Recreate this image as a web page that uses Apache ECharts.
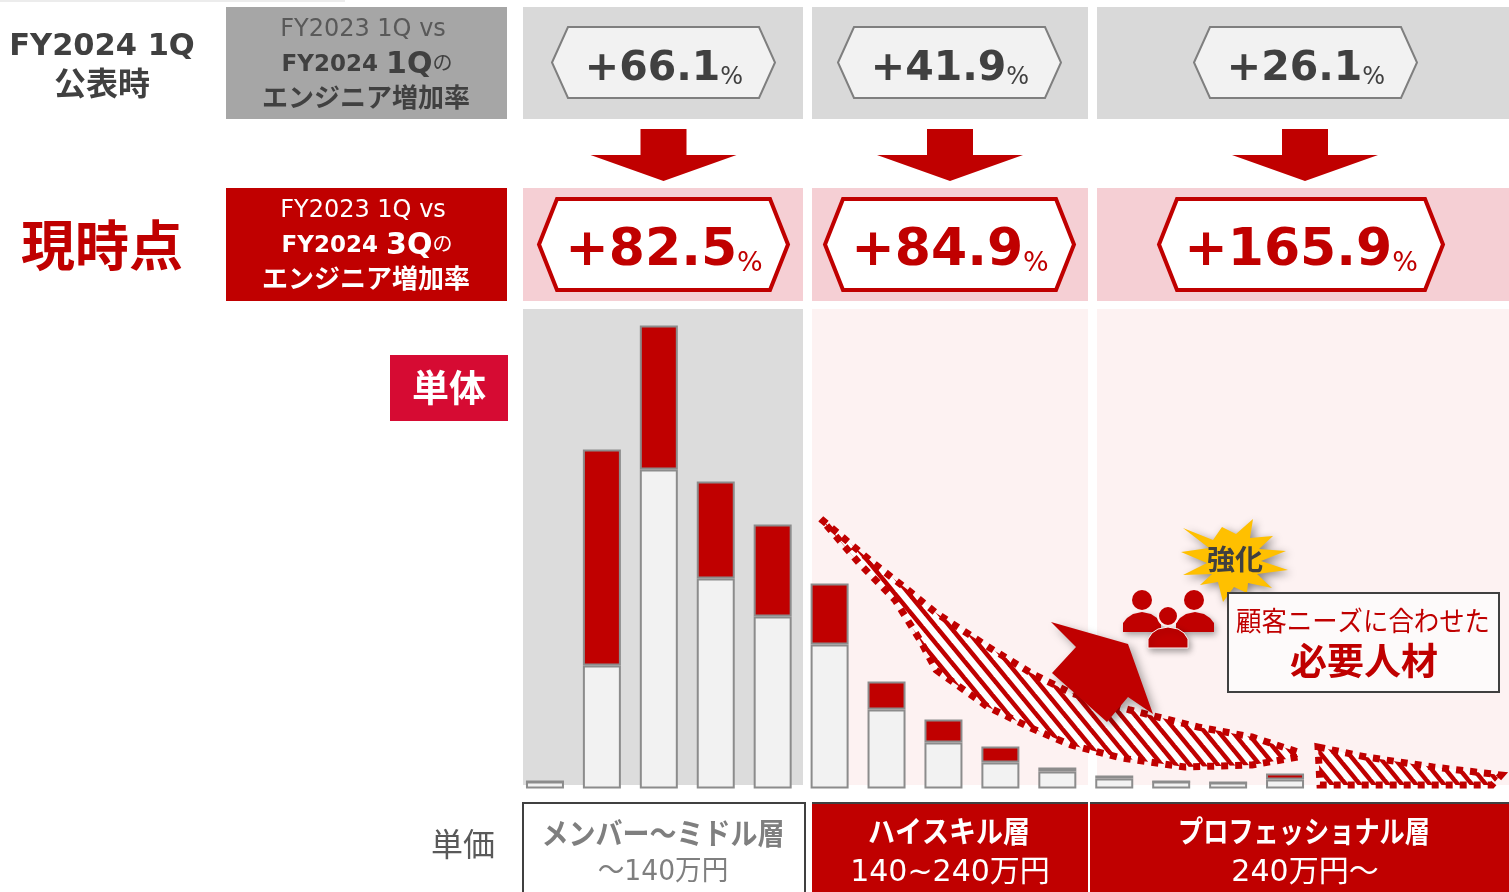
<!DOCTYPE html>
<html>
<head>
<meta charset="utf-8">
<script src="https://cdn.jsdelivr.net/npm/echarts@6/dist/echarts.min.js"></script>
<style>
html, body { margin: 0; padding: 0; background: #fff; }
#container { width: 1509px; height: 892px; }
</style>
</head>
<body>
<div id="container"></div>
<script>
// no scale in the source, so bar heights are read off the picture in pixels
var categories = ['1', '2', '3', '4', '5', '6', '7', '8', '9', '10', '11', '12', '13', '14'];
var baseValues = [7, 123, 319, 210, 172, 144, 79, 46, 26, 17, 10, 7, 6, 9];
var addedValues = [0, 216, 144, 97, 92, 61, 28, 23, 16, 4, 3, 0, 0, 6];

var firstRates = ['+66.1', '+41.9', '+26.1'];
var currentRates = ['+82.5', '+84.9', '+165.9'];
var bandNames = ['メンバー〜ミドル層', 'ハイスキル層', 'プロフェッショナル層'];
var bandPrices = ['〜140万円', '140~240万円', '240万円〜'];

var RED = '#c00000';
var DARK = '#404040';
var FONT = '"DejaVu Sans","Noto Sans CJK JP",sans-serif';
var ICON_BG = '#fdf2f2';
var SHADOW = {shadowBlur: 6, shadowColor: 'rgba(0,0,0,0.35)', shadowOffsetX: 2, shadowOffsetY: 3};

function rect(x, y, w, h, fill, z, stroke, lw) {
    return {type: 'rect', z: z || 0, shape: {x: x, y: y, width: w, height: h},
        style: {fill: fill, stroke: stroke || null, lineWidth: lw || 0}};
}
function text(str, x, y, size, color, bold, sx, z) {
    return {type: 'text', z: z || 20, x: x, y: y + size * 0.11, scaleX: sx || 1,
        style: {text: str, x: 0, y: 0, fontFamily: FONT, fontSize: size, fontWeight: bold ? 'bold' : 'normal',
            fill: color, align: 'center', verticalAlign: 'middle'}};
}
function hexagon(cx, half, notch, top, bottom, fill, stroke, lw) {
    var mid = (top + bottom) / 2;
    return {type: 'polygon', z: 10, shape: {points: [[cx - half, mid], [cx - half + notch, top], [cx + half - notch, top],
            [cx + half, mid], [cx + half - notch, bottom], [cx - half + notch, bottom]]},
        style: {fill: fill, stroke: stroke, lineWidth: lw, lineJoin: 'miter'}};
}
function rate(str, cx, y, size, pctSize, color) {
    return {type: 'text', z: 20, x: cx, y: y + size * 0.1,
        style: {text: '{n|' + str + '}{p|%}', x: 0, y: 0, align: 'center', verticalAlign: 'middle',
            rich: {
                n: {fontFamily: FONT, fontSize: size, fontWeight: 'bold', fill: color},
                p: {fontFamily: FONT, fontSize: pctSize, fill: color, verticalAlign: 'bottom', padding: [0, 0, 0, 0]}
            }}};
}
function downArrow(cx) {
    return {type: 'polygon', z: 10, shape: {points: [[cx - 23, 129], [cx + 23, 129], [cx + 23, 155], [cx + 73, 155],
            [cx, 181], [cx - 73, 155], [cx - 23, 155]]}, style: {fill: RED}};
}
function header(cx, top, q, color1, color2) {
    return [
        text('FY2023 1Q vs', cx, top + 20, 24, color1, false),
        {type: 'text', z: 20, x: cx + 4, y: top + 58,
            style: {text: '{a|FY2024 }{b|' + q + '}{c|の}', x: 0, y: 0, align: 'center', verticalAlign: 'middle',
                rich: {
                    a: {fontFamily: FONT, fontSize: 23, fontWeight: 'bold', fill: color2},
                    b: {fontFamily: FONT, fontSize: 30, fontWeight: 'bold', fill: color2},
                    c: {fontFamily: FONT, fontSize: 20, fill: color2}
                }}},
        text('エンジニア増加率', cx + 3, top + 90, 26, color2, true)
    ];
}
function body(cx, base, halfW, top, z, edge) {
    var style = Object.assign({fill: RED}, SHADOW);
    if (edge) {
        style.stroke = ICON_BG;
        style.lineWidth = 1;
    }
    return {type: 'polygon', z: z, shape: {points: [[cx - halfW, base], [cx - halfW, base - 9], [cx - halfW + 4, top + 6], [cx - halfW + 10, top + 2],
            [cx, top], [cx + halfW - 10, top + 2], [cx + halfW - 4, top + 6], [cx + halfW, base - 9], [cx + halfW, base]]},
        style: style};
}

// diagonal stripes for the hatched bands
var tile = document.createElement('canvas');
tile.width = 14;
tile.height = 17;
var tc = tile.getContext('2d');
tc.fillStyle = '#fff';
tc.fillRect(0, 0, 14, 17);
tc.strokeStyle = RED;
tc.lineWidth = 4.5;
[-14, 0, 14].forEach(function (dx) {
    tc.beginPath();
    tc.moveTo(dx - 14, -17);
    tc.lineTo(dx + 28, 34);
    tc.stroke();
});

var backElements = [
    rect(0, 0, 345, 2, '#ececec'),
    rect(226, 7, 281, 112, '#a6a6a6'),
    rect(523, 7, 280, 112, '#d9d9d9'),
    rect(812, 7, 276, 112, '#d9d9d9'),
    rect(1097, 7, 412, 112, '#d9d9d9'),
    rect(226, 188, 281, 113, RED),
    rect(523, 188, 280, 113, '#f5cfd4'),
    rect(812, 188, 276, 113, '#f5cfd4'),
    rect(1097, 188, 412, 113, '#f5cfd4'),
    rect(523, 309, 280, 476, '#dcdcdc'),
    rect(812, 309, 276, 476, '#fdf2f2'),
    rect(1097, 309, 412, 476, '#fdf2f2')
];

var frontElements = [
    text('FY2024 1Q', 102, 44, 30.5, DARK, true),
    text('公表時', 102, 83, 32, DARK, true),
    text('現時点', 102, 246, 54, RED, true),
    rect(390, 355, 118, 66, '#d60b33', 10),
    text('単体', 449, 388, 37, '#fff', true),
    text('単価', 463, 844, 32, '#595959', false),

    hexagon(663.5, 111.5, 16, 27, 98, '#f2f2f2', '#7f7f7f', 2),
    hexagon(949.5, 111.5, 16, 27, 98, '#f2f2f2', '#7f7f7f', 2),
    hexagon(1305.5, 111.5, 16, 27, 98, '#f2f2f2', '#7f7f7f', 2),
    hexagon(663.5, 124.5, 18, 199, 290, '#fff', RED, 4),
    hexagon(949.5, 124.5, 18, 199, 290, '#fff', RED, 4),
    hexagon(1301, 142, 18, 199, 290, '#fff', RED, 4),
    downArrow(663.5), downArrow(950), downArrow(1305),

    rate(firstRates[0], 664, 65, 41, 24, DARK),
    rate(firstRates[1], 950, 65, 41, 24, DARK),
    rate(firstRates[2], 1306, 65, 41, 24, DARK),
    rate(currentRates[0], 664, 246, 52, 27, RED),
    rate(currentRates[1], 950, 246, 52, 27, RED),
    rate(currentRates[2], 1301, 246, 52, 27, RED),

    // hatched bands
    {type: 'polygon', z: 10, shape: {points: [[821, 519], [872, 562], [908, 590], [936, 613], [990, 648], [1031, 673], [1071, 693],
            [1130, 710], [1198, 727], [1252, 737], [1298, 752], [1298, 757], [1252, 765], [1185, 767], [1121, 758], [1071, 745],
            [1031, 728], [988, 707], [936, 670], [920, 640], [895, 600], [859, 563]]},
        style: {fill: {image: tile, repeat: 'repeat'}, stroke: RED, lineWidth: 7, lineDash: [7, 7]}},
    {type: 'polygon', z: 10, shape: {points: [[1318, 747], [1366, 757], [1433, 767], [1501, 775], [1492, 785], [1320, 785]]},
        style: {fill: {image: tile, repeat: 'repeat'}, stroke: RED, lineWidth: 7, lineDash: [7, 7]}},

    // big arrow
    {type: 'polygon', z: 11, shape: {points: [[1051, 622], [1128, 644], [1153, 714], [1128, 697], [1107, 722], [1052, 673], [1076, 647]]},
        style: {fill: RED, shadowBlur: 10, shadowColor: 'rgba(0,0,0,0.35)', shadowOffsetX: 4, shadowOffsetY: 4}},

    // burst
    {type: 'polygon', z: 12, shape: {points: [[1253, 519], [1250, 538], [1273, 536], [1259, 549], [1286, 551], [1261, 561], [1288, 570],
            [1257, 574], [1272, 588], [1248, 583], [1247, 593], [1234, 587], [1223, 602], [1218, 582], [1200, 585], [1212, 574],
            [1183, 575], [1207, 563], [1181, 552], [1209, 548], [1183, 528], [1213, 540], [1222, 527], [1236, 534]]},
        style: {fill: '#ffc000', shadowBlur: 8, shadowColor: 'rgba(0,0,0,0.45)', shadowOffsetX: 3, shadowOffsetY: 3}},
    text('強化', 1235, 560, 28, DARK, true, 1, 21),

    // people icon
    {type: 'circle', z: 12, shape: {cx: 1142, cy: 600, r: 10}, style: {fill: RED}},
    {type: 'circle', z: 12, shape: {cx: 1194, cy: 600, r: 10}, style: {fill: RED}},
    body(1142, 632, 19, 612, 12),
    body(1195, 632, 19, 612, 12),
    {type: 'circle', z: 13, shape: {cx: 1168, cy: 616, r: 10}, style: {fill: RED, stroke: ICON_BG, lineWidth: 2}},
    body(1168, 648, 20, 627, 13, true),

    // callout
    rect(1228, 593, 271, 99, '#fdfafa', 12, '#404040', 2),
    text('顧客ニーズに合わせた', 1363, 621, 27, RED, false, 0.94),
    text('必要人材', 1364, 661, 37, RED, true),

    // price bands
    rect(523, 803, 282, 92, '#fff', 10, DARK, 2),
    rect(812, 802, 276, 90, RED, 10),
    rect(1090, 802, 419, 90, RED, 10),
    rect(812, 802, 276, 2, DARK, 11),
    rect(1090, 802, 419, 2, DARK, 11),
    text(bandNames[0], 663, 833, 30, '#7f7f7f', true, 0.9),
    text(bandNames[1], 949, 831, 30, '#fff', true, 0.9),
    text(bandNames[2], 1304, 831, 30, '#fff', true, 0.84),
    text(bandPrices[0], 663, 870, 28, '#7f7f7f', false, 0.95),
    text(bandPrices[1], 950, 870, 30, '#fff', false),
    text(bandPrices[2], 1305, 870, 30, '#fff', false)
].concat(header(363, 7, '1Q', '#595959', DARK), header(363, 188, '3Q', '#fff', '#fff'));

var myChart = echarts.init(document.getElementById('container'));
var barBorder = {borderColor: '#8c8c8c', borderWidth: 2};
myChart.setOption({
    animation: false,
    backgroundColor: '#ffffff',
    graphic: {elements: backElements.concat(frontElements)},
    grid: {left: 516.5, width: 797, top: 308.5, height: 480},
    xAxis: {type: 'category', data: categories, show: false},
    yAxis: {type: 'value', min: 0, max: 480, show: false},
    series: [{
        name: 'base',
        type: 'bar',
        stack: 'total',
        barWidth: 38,
        z: 5,
        itemStyle: Object.assign({color: '#f2f2f2'}, barBorder),
        data: baseValues
    }, {
        name: 'added',
        type: 'bar',
        stack: 'total',
        barWidth: 38,
        z: 5,
        itemStyle: Object.assign({color: RED}, barBorder),
        data: addedValues
    }]
});
</script>
</body>
</html>
